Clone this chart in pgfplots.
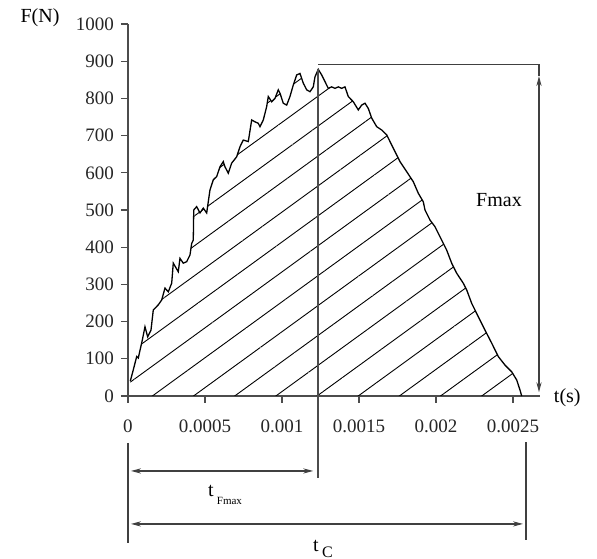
\documentclass[border=0pt]{standalone}
\usepackage{pgfplots}
\pgfplotsset{compat=1.18}
\usepackage{pgfplotstable}
\usepackage{fontspec}
\setmainfont{Liberation Serif}
\usetikzlibrary{patterns.meta,arrows.meta}

% force curve: t [s], F [N]
\pgfplotstableread{
t F
0.0000150 40
0.0000344 70
0.0000565 106
0.0000669 102
0.0000929 150
0.0001104 186
0.0001279 159
0.0001494 177
0.0001643 231
0.0001968 245
0.0002188 258
0.0002403 290
0.0002617 280
0.0002838 303
0.0002942 357
0.0003266 334
0.0003377 370
0.0003591 357
0.0003812 361
0.0004026 379
0.0004136 410
0.0004240 419
0.0004270 500
0.0004461 509
0.0004675 492
0.0004890 505
0.0005110 492
0.0005325 554
0.0005539 581
0.0005760 590
0.0005974 616
0.0006188 630
0.0006299 616
0.0006513 599
0.0006734 626
0.0007058 643
0.0007273 670
0.0007487 688
0.0007812 684
0.0008032 742
0.0008247 737
0.0008461 733
0.0008571 724
0.0008786 742
0.0009006 778
0.0009110 805
0.0009331 791
0.0009545 800
0.0009760 823
0.0009870 814
0.0010084 787
0.0010305 782
0.0010519 805
0.0010734 836
0.0010955 863
0.0011169 867
0.0011383 841
0.0011604 823
0.0011818 818
0.0012032 831
0.0012143 858
0.0012357 878
0.0012578 863
0.0012792 845
0.0013006 827
0.0013227 831
0.0013442 827
0.0013656 831
0.0013877 827
0.0014091 831
0.0014305 805
0.0014630 791
0.0014955 769
0.0015175 782
0.0015390 787
0.0015604 773
0.0015825 747
0.0016149 724
0.0016474 715
0.0016799 702
0.0017013 684
0.0017338 657
0.0017662 630
0.0018097 603
0.0018526 576
0.0018851 545
0.0019175 522
0.0019286 500
0.0019610 473
0.0019935 455
0.0020260 428
0.0020695 392
0.0021019 357
0.0021344 330
0.0021773 303
0.0021994 285
0.0022318 249
0.0022747 213
0.0023182 177
0.0023617 142
0.0024045 106
0.0024481 83
0.0024916 65
0.0025240 43
0.0025455 16
0.0025565 0
}\forcecurve

\begin{document}
\begin{tikzpicture}
\begin{axis}[
  scale only axis, width=206pt, height=186pt,
  xmin=0, xmax=0.002675, ymin=0, ymax=1000,
  axis lines=left, axis line style={-, line width=0.9pt, black!70},
  tick align=outside, major tick length=3.5pt,
  tick style={line width=0.6pt, black!70},
  xtick={0,0.0005,0.001,0.0015,0.002,0.0025},
  xticklabels={0,0.0005,0.001,0.0015,0.002,0.0025},
  ytick={0,100,...,1000},
  yticklabels={0,100,200,300,400,500,600,700,800,900,1000},
  ticklabel style={font=\fontsize{9.5}{11}\selectfont, text=black!85},
  xticklabel style={yshift=-5pt},
  scaled x ticks=false,
  clip=false,
]
\addplot[draw=none, pattern={Lines[angle=36,distance=12.1pt,xshift=5.2pt,line width=0.45pt]}, pattern color=black]
  table[x=t, y=F] {\forcecurve} \closedcycle;
\addplot[black, line width=0.65pt, mark=none] table[x=t, y=F] {\forcecurve};

% dimension lines
\draw[line width=0.8pt, black!70] (axis cs:0.001235,878) -- (axis cs:0.001235,-220);
\draw[line width=0.6pt, black!75] (axis cs:0,-126) -- (axis cs:0,-395);
\draw[line width=0.6pt, black!75] (axis cs:0.0025844,-124) -- (axis cs:0.0025844,-387);
\draw[line width=0.6pt, black!75, {Stealth[length=5pt,width=2.6pt]}-{Stealth[length=5pt,width=2.6pt]}, shorten <=1.5pt, shorten >=2.5pt]
  (axis cs:0,-201.6) -- (axis cs:0.001235,-201.6);
\draw[line width=0.6pt, black!75, {Stealth[length=5pt,width=2.6pt]}-{Stealth[length=5pt,width=2.6pt]}, shorten <=1.5pt, shorten >=1.5pt]
  (axis cs:0,-344) -- (axis cs:0.0025844,-344);
\draw[line width=0.6pt, black!75] (axis cs:0.001235,891.6) -- (axis cs:0.0026688,891.6);
\draw[line width=0.6pt, black!75] (axis cs:0.0026688,891.6) -- (axis cs:0.0026688,860);
\draw[line width=0.6pt, black!75, {Stealth[length=5pt,width=2.6pt]}-{Stealth[length=5pt,width=2.6pt]}]
  (axis cs:0.0026688,860) -- (axis cs:0.0026688,10);

% labels
\node[font=\fontsize{10}{12}\selectfont] at (axis cs:-0.000571,1018) {F(N)};
\node[font=\fontsize{10}{12}\selectfont, anchor=west] at (axis cs:0.00272,-5) {t(s)};
\node[font=\fontsize{10}{12}\selectfont] at (axis cs:0.002409,527) {Fmax};
\node[font=\fontsize{10}{12}\selectfont] at (axis cs:0.00063,-266) {t\,\raisebox{-4pt}{\fontsize{5.5}{6}\selectfont Fmax}};
\node[font=\fontsize{10}{12}\selectfont] at (axis cs:0.001266,-411) {t\,\raisebox{-3pt}{\fontsize{8}{9}\selectfont C}};

\coordinate (bbsw) at (axis cs:-0.000831,-438.2);
\coordinate (bbne) at (axis cs:0.0030455,1064.5);
\end{axis}
\pgfresetboundingbox
\path (bbsw) rectangle (bbne);
\end{tikzpicture}
\end{document}
